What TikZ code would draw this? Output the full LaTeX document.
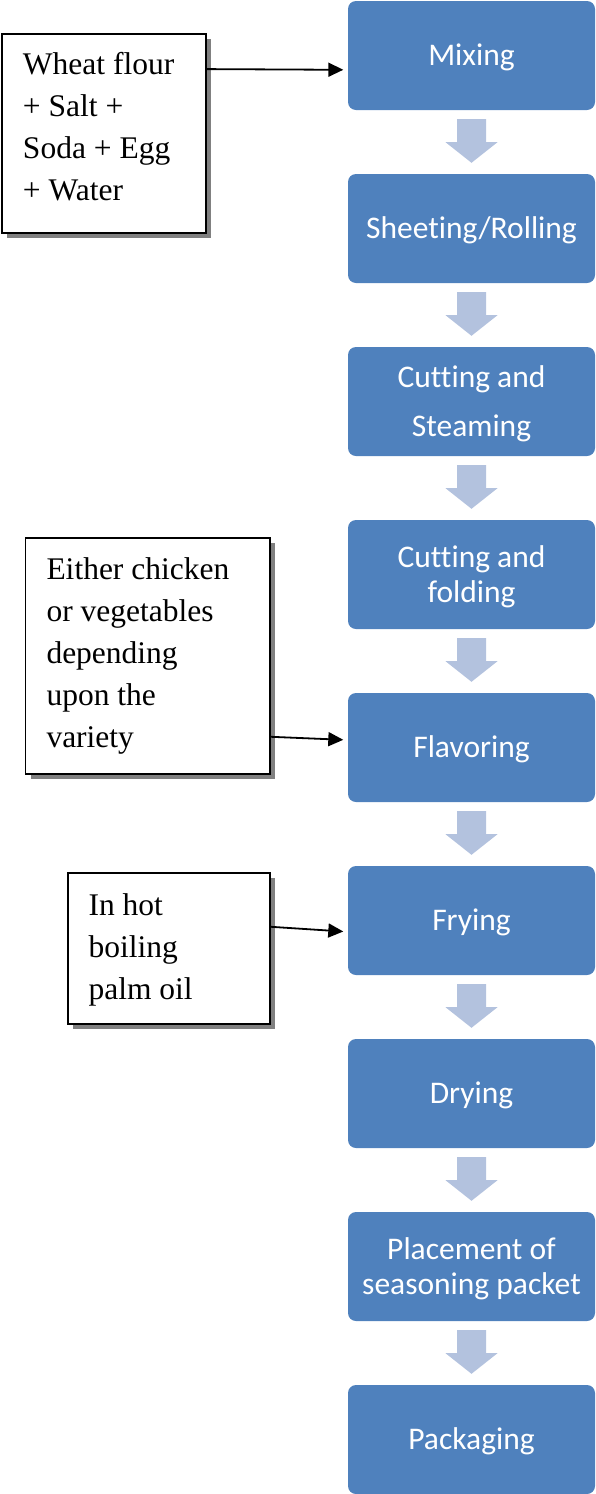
\documentclass[tikz,border=0pt]{standalone}
\usepackage{fontspec}
\setmainfont{Liberation Serif}
\newfontfamily\calibri[Ligatures={NoCommon,NoContextual}]{Carlito}
\usetikzlibrary{arrows.meta,calc,shadows}
\definecolor{boxblue}{RGB}{79,129,189}
\definecolor{arrowblue}{RGB}{179,194,222}
\definecolor{shadowgray}{RGB}{128,128,128}
\newcommand\flowarrow[2]{%
  \fill[arrowblue] ($(#1.south)+(-14.5,9)$) -- ($(#1.south)+(14.5,9)$) --
    ($(#1.south)+(14.5,32)$) -- ($(#1.south)+(26,32)$) --
    ($(#2.north)+(0,-11)$) -- ($(#1.south)+(-26,32)$) --
    ($(#1.south)+(-14.5,32)$) -- cycle;}
\begin{document}
\begin{tikzpicture}[x=1pt,y=-1pt,
  stepbox/.style={rectangle, rounded corners=8pt, fill=boxblue, text=white,
    minimum width=247pt, minimum height=109pt, inner sep=0pt, align=center,
    text height=20pt, text depth=0pt,
    font=\calibri\fontsize{31.5}{35}\selectfont},
  notebox/.style={rectangle, draw=black, line width=1.8pt, fill=white, inner sep=0pt,
    general shadow={fill=shadowgray, shadow xshift=5pt, shadow yshift=-5pt}},
  notetext/.style={anchor=north west, inner sep=0pt, align=left,
    font=\fontsize{31.5}{42}\selectfont},
  feed/.style={line width=1.8pt, -{Triangle[length=15pt,width=14pt]}}]
\useasboundingbox (0,0) rectangle (595,1494);
% process steps
\node[stepbox] (mix) at (471.5,55.5) {Mixing};
\node[stepbox] (sheet) at (471.5,228.5) {Sheeting/Rolling};
\node[stepbox, text height=69pt, font=\calibri\fontsize{31.5}{49}\selectfont] (steam) at (471.5,401.5) {Cutting and\\Steaming};
\node[stepbox, text height=55pt] (fold) at (471.5,574.5) {Cutting and\\folding};
\node[stepbox] (flav) at (471.5,747.5) {Flavoring};
\node[stepbox] (fry) at (471.5,920.5) {Frying};
\node[stepbox] (dry) at (471.5,1093.5) {Drying};
\node[stepbox, text height=55pt] (place) at (471.5,1266.5) {Placement of\\seasoning packet};
\node[stepbox] (pack) at (471.5,1439.5) {Packaging};
\flowarrow{mix}{sheet}
\flowarrow{sheet}{steam}
\flowarrow{steam}{fold}
\flowarrow{fold}{flav}
\flowarrow{flav}{fry}
\flowarrow{fry}{dry}
\flowarrow{dry}{place}
\flowarrow{place}{pack}
% side notes
\node[notebox, minimum width=204pt, minimum height=199pt] (w1) at (104,133.5) {};
\node[notetext] (t1) at (22.8,52.2) {Wheat flour\\+ Salt +\\Soda + Egg\\+ Water};
\node[notebox, minimum width=244.7pt, minimum height=236pt] (w2) at (147.85,656.3) {};
\node[notetext] (t2) at (46.3,557.5) {Either chicken\\or vegetables\\depending\\upon the\\variety};
\node[notebox, minimum width=202.6pt, minimum height=150.7pt] (w3) at (168.9,948.65) {};
\node[notetext] (t3) at (88.4,893.2) {In hot\\boiling\\palm oil};
% feed arrows
\draw[feed] ($(w1.north east)+(0,36)$) -- ($(mix.north west)+(-4.5,69)$);
\draw[feed] ($(w2.north east)+(0,199.4)$) -- ($(flav.north west)+(-4.5,47)$);
\draw[feed] ($(w3.north east)+(0,54.4)$) -- ($(fry.north west)+(-4.5,65.7)$);
\end{tikzpicture}
\end{document}
